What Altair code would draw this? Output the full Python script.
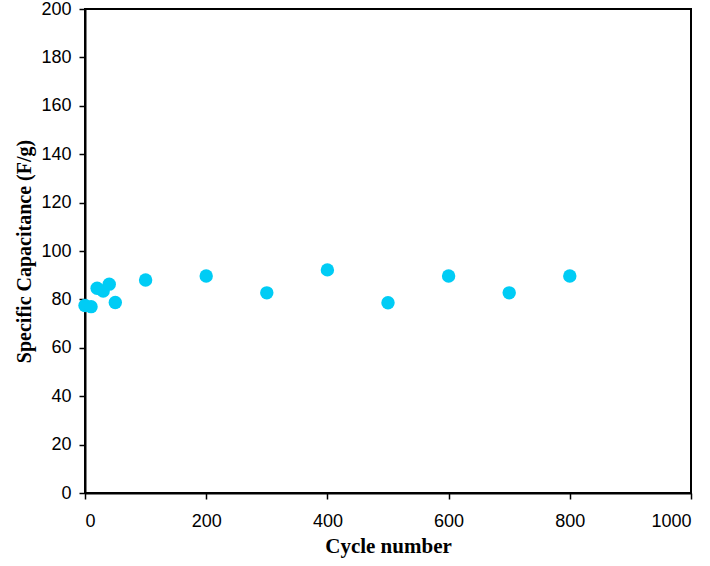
import altair as alt
import pandas as pd

cycles = [0, 10, 20, 30, 40, 50, 100, 200, 300, 400, 500, 600, 700, 800]
capacitance = [77.5, 77.0, 84.6, 83.5, 86.3, 78.7, 88.0, 89.7, 82.7, 92.2, 78.6, 89.7, 82.7, 89.7]

df = pd.DataFrame({"cycle": cycles, "cap": capacitance})

chart = alt.Chart(df).mark_circle(size=180, opacity=1, color="#00ccf5").encode(
    x=alt.X("cycle:Q", scale=alt.Scale(domain=[0, 1000], nice=False),
            axis=alt.Axis(values=[0, 200, 400, 600, 800, 1000], format="d", title="Cycle number",
                          labelPadding=13, titlePadding=5, titleFontSize=21)),
    y=alt.Y("cap:Q", scale=alt.Scale(domain=[0, 200], nice=False),
            axis=alt.Axis(values=list(range(0, 201, 20)), format="d", title="Specific Capacitance (F/g)",
                          labelPadding=8, titlePadding=6, titleFontSize=20)),
).properties(
    width=606, height=484,
    autosize=alt.AutoSizeParams(type="none"),
    padding={"left": 85, "top": 9, "right": 19, "bottom": 73},
).configure_view(
    stroke="black", strokeWidth=2
).configure_axis(
    grid=False,
    domainColor="black", domainWidth=2,
    tickColor="black", tickWidth=1.5, tickSize=6,
    labelFont="Liberation Sans", labelFontSize=18, labelColor="black",
    titleFont="Liberation Serif", titleFontWeight="bold", titleColor="black",
)

chart.save("out.html", embed_options={"renderer": "svg", "actions": False})
